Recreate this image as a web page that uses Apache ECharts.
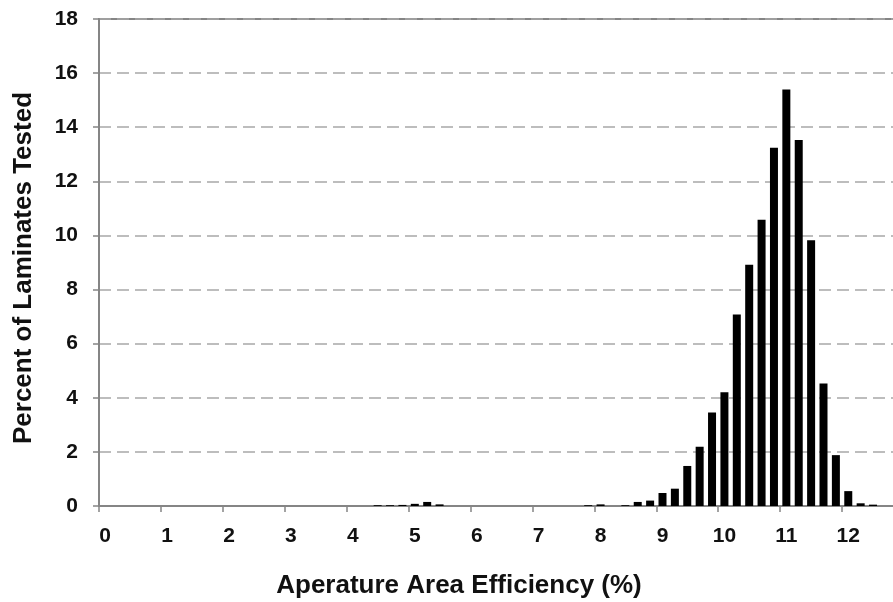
<!DOCTYPE html>
<html>
<head>
<meta charset="utf-8">
<script src="https://cdn.jsdelivr.net/npm/echarts@6/dist/echarts.min.js"></script>
<style>
  html, body { margin: 0; padding: 0; background: #fff; }
  #chart { width: 893px; height: 602px; }
</style>
</head>
<body>
<div id="chart"></div>
<script>
// Efficiency bins (%), 0.2 wide
const efficiencyBins = [
  '0.0','0.2','0.4','0.6','0.8','1.0','1.2','1.4','1.6','1.8',
  '2.0','2.2','2.4','2.6','2.8','3.0','3.2','3.4','3.6','3.8',
  '4.0','4.2','4.4','4.6','4.8','5.0','5.2','5.4','5.6','5.8',
  '6.0','6.2','6.4','6.6','6.8','7.0','7.2','7.4','7.6','7.8',
  '8.0','8.2','8.4','8.6','8.8','9.0','9.2','9.4','9.6','9.8',
  '10.0','10.2','10.4','10.6','10.8','11.0','11.2','11.4','11.6','11.8',
  '12.0','12.2','12.4','12.6','12.8'
];

// Percent of laminates falling in each bin
const percentTested = [
  0, 0, 0, 0, 0, 0, 0, 0, 0, 0,
  0, 0, 0, 0, 0, 0, 0, 0, 0, 0,
  0, 0, 0.03, 0.03, 0.04, 0.08, 0.15, 0.06, 0, 0,
  0, 0, 0, 0, 0, 0, 0, 0, 0, 0.03,
  0.06, 0, 0.03, 0.15, 0.2, 0.48, 0.64, 1.48, 2.19, 3.46,
  4.2, 7.08, 8.92, 10.58, 13.24, 15.39, 13.53, 9.82, 4.53, 1.88,
  0.55, 0.1, 0.05, 0, 0
];

const yTicks = { min: 0, max: 18, step: 2 };

const xTitle = 'Aperature Area Efficiency (%)';
const yTitle = 'Percent of Laminates Tested';

const FONT = '"Liberation Sans", Arial, sans-serif';

const chart = echarts.init(document.getElementById('chart'), null, { renderer: 'canvas' });

chart.setOption({
  animation: false,
  backgroundColor: '#ffffff',
  grid: {
    // plot runs past the right edge of the canvas
    left: 99, top: 19, width: 805, bottom: 96,
    outerBoundsMode: 'none',
    show: true, borderColor: '#858585', borderWidth: 2, backgroundColor: 'transparent'
  },
  xAxis: {
    type: 'category',
    data: efficiencyBins,
    boundaryGap: true,
    axisLine: { lineStyle: { color: '#858585', width: 2 } },
    axisTick: { show: true, interval: 4, alignWithLabel: false, length: 6, lineStyle: { color: '#858585', width: 1.5 } },
    axisLabel: {
      interval: 4,
      margin: 20,
      color: '#111',
      fontFamily: FONT,
      fontWeight: 'bold',
      fontSize: 21,
      formatter: v => String(Number(v))
    },
    splitLine: { show: false }
  },
  yAxis: {
    type: 'value',
    min: yTicks.min,
    max: yTicks.max,
    interval: yTicks.step,
    axisLine: { show: true, lineStyle: { color: '#858585', width: 2 } },
    axisTick: { show: true, length: 6, lineStyle: { color: '#858585', width: 1.5 } },
    axisLabel: {
      margin: 21,
      color: '#111',
      fontFamily: FONT,
      fontWeight: 'bold',
      fontSize: 21
    },
    splitLine: { show: true, lineStyle: { color: '#a8a8a8', width: 1.5, type: [12, 6] } }
  },
  graphic: [
    {
      type: 'text',
      x: 459, y: 586,
      style: { text: xTitle, font: 'bold 26px ' + FONT, fill: '#111', align: 'center', verticalAlign: 'middle' }
    },
    {
      type: 'text',
      x: 24, y: 268,
      rotation: Math.PI / 2,
      style: { text: yTitle, font: 'bold 26px ' + FONT, fill: '#111', align: 'center', verticalAlign: 'middle' }
    }
  ],
  series: [{
    type: 'bar',
    data: percentTested,
    barWidth: 8,
    itemStyle: { color: '#000' }
  }]
});
</script>
</body>
</html>
